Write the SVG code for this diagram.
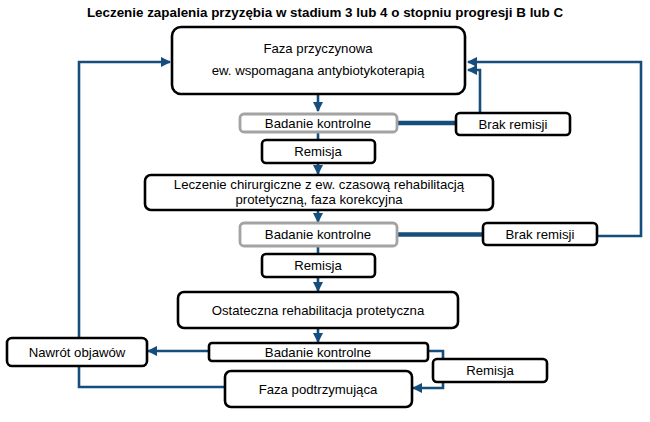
<svg xmlns="http://www.w3.org/2000/svg" width="650" height="422" viewBox="0 0 650 422">
<defs>
<marker id="ah" viewBox="0 0 10 10" refX="9" refY="5" markerWidth="4" markerHeight="4" markerUnits="strokeWidth" orient="auto">
<path d="M0,0 L10,5 L0,10 z" fill="#154d7c"/>
</marker>
<style>
.box{fill:#fff;stroke:#000;stroke-width:2.6}
.gbox{fill:#fff;stroke:#a3a3a3;stroke-width:2.8}
.t{font-family:"Liberation Sans",Arial,sans-serif;font-size:13.2px;fill:#000;text-anchor:middle}
.title{font-family:"Liberation Sans",Arial,sans-serif;font-size:13.4px;font-weight:bold;fill:#000;text-anchor:middle}
.c{fill:none;stroke:#154d7c;stroke-width:2.6}
.ca{fill:none;stroke:#154d7c;stroke-width:2.6;marker-end:url(#ah)}
.thick{fill:none;stroke:#154d7c;stroke-width:4.5}
</style>
</defs>
<rect width="650" height="422" fill="#fff"/>
<text class="title" x="325" y="17">Leczenie zapalenia przyzębia w stadium 3 lub 4 o stopniu progresji B lub C</text>
<g id="connectors">
<path class="ca" d="M318,94 V111"/>
<path class="c" d="M318,132 V140"/>
<path class="ca" d="M318,163 V174"/>
<path class="ca" d="M318,210 V222"/>
<path class="c" d="M318,246 V254"/>
<path class="ca" d="M318,277 V291"/>
<path class="ca" d="M318,328 V342"/>
<path class="thick" d="M397,123 H456"/>
<path class="thick" d="M397,234.5 H483"/>
<path class="ca" d="M480,113 V70 H468"/>
<path class="ca" d="M597,236 H641 V62 H468"/>
<path class="ca" d="M209,351 H148"/>
<path class="ca" d="M225,387 H79 V62 H170"/>
<path class="ca" d="M428,351 H443 V388 H413"/>
</g>
<g id="n1"><rect class="box" x="172" y="27" width="293" height="67" rx="9"/><text class="t" x="318" y="53">Faza przyczynowa</text><text class="t" x="318" y="75">ew. wspomagana antybiotykoterapią</text></g>
<g id="n2"><rect class="gbox" x="240" y="114" width="157" height="18" rx="4"/><text class="t" x="318" y="127.5">Badanie kontrolne</text></g>
<g id="n3"><rect class="box" x="456" y="113" width="114" height="22" rx="4"/><text class="t" x="513" y="128.5">Brak remisji</text></g>
<g id="n4"><rect class="box" x="262" y="140" width="113" height="23" rx="4"/><text class="t" x="318" y="156">Remisja</text></g>
<g id="n5"><rect class="box" x="145" y="175" width="348" height="35" rx="6"/><text class="t" x="319" y="189">Leczenie chirurgiczne z ew. czasową rehabilitacją</text><text class="t" x="319" y="204">protetyczną, faza korekcyjna</text></g>
<g id="n6"><rect class="gbox" x="240" y="223" width="157" height="23" rx="4"/><text class="t" x="318" y="239">Badanie kontrolne</text></g>
<g id="n7"><rect class="box" x="483" y="223" width="114" height="22" rx="4"/><text class="t" x="540" y="238.5">Brak remisji</text></g>
<g id="n8"><rect class="box" x="262" y="254" width="113" height="23" rx="4"/><text class="t" x="318" y="270">Remisja</text></g>
<g id="n9"><rect class="box" x="178" y="292" width="280" height="36" rx="6"/><text class="t" x="318" y="314.5">Ostateczna rehabilitacja protetyczna</text></g>
<g id="n10"><rect class="box" x="209" y="343" width="219" height="18" rx="3"/><text class="t" x="318" y="357">Badanie kontrolne</text></g>
<g id="n11"><rect class="box" x="7" y="338" width="140" height="28" rx="5"/><text class="t" x="77" y="356.5">Nawrót objawów</text></g>
<g id="n12"><rect class="box" x="433" y="359" width="114" height="23" rx="4"/><text class="t" x="490" y="375">Remisja</text></g>
<g id="n13"><rect class="box" x="225" y="371" width="187" height="36" rx="6"/><text class="t" x="318" y="393.5">Faza podtrzymująca</text></g>
</svg>
